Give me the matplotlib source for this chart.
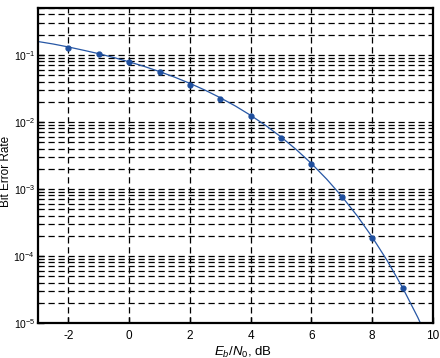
"""BER curve: theory line with simulated points, MATLAB-style dashed grid."""

import matplotlib as mpl
import matplotlib.pyplot as plt
from matplotlib.ticker import LogLocator, NullFormatter

mpl.use("Agg")

plt.rcParams["font.family"] = ["Liberation Sans", "DejaVu Sans"]
plt.rcParams["mathtext.fontset"] = "custom"
plt.rcParams["mathtext.rm"] = "Liberation Sans"
plt.rcParams["mathtext.it"] = "Liberation Sans:italic"
plt.rcParams["axes.unicode_minus"] = False

# Theory curve (at 0.5 dB steps)
ebn0_theory = [-3, -2.5, -2, -1.5, -1, -0.5, 0, 0.5, 1, 1.5, 2, 2.5, 3, 3.5,
               4, 4.5, 5, 5.5, 6, 6.5, 7, 7.5, 8, 8.5, 9, 9.5, 10]
ber_theory = [0.158, 0.145, 0.131, 0.117, 0.104, 0.091, 0.0786, 0.0671,
              0.0563, 0.0464, 0.0375, 0.0297, 0.0229, 0.0172, 0.0125,
              0.0088, 0.00595, 0.00386, 0.00239, 0.0014, 7.73e-4, 3.99e-4,
              1.91e-4, 8.4e-5, 3.36e-5, 1.21e-5, 3.87e-6]

# Simulated points
ebn0_sim = [-2, -1, 0, 1, 2, 3, 4, 5, 6, 7, 8, 9]
ber_sim = [0.128, 0.102, 0.077, 0.055, 0.036, 0.0222, 0.0123, 0.0058,
           0.00232, 7.5e-4, 1.85e-4, 3.3e-5]

line_color = "#2757a5"

figure = plt.figure(figsize=(4.4, 3.58), dpi=100)
axes = figure.add_axes([0.0864, 0.0978, 0.8977, 0.8799])

axes.semilogy(ebn0_theory, ber_theory, color=line_color, linewidth=0.9)
axes.semilogy(ebn0_sim, ber_sim, linestyle="none", marker="o",
              markersize=3.5, color="#1f4f9e")

axes.set_xlim(-3, 10)
axes.set_ylim(1e-5, 0.5)
axes.set_xticks([-2, 0, 2, 4, 6, 8, 10])
axes.yaxis.set_major_locator(LogLocator(base=10, numticks=10))
axes.yaxis.set_minor_locator(LogLocator(base=10, subs=range(2, 10), numticks=20))
axes.yaxis.set_minor_formatter(NullFormatter())

dash = (0, (5, 3))
axes.grid(True, which="major", axis="both", color="black", linestyle=dash,
          linewidth=0.9)
axes.grid(True, which="minor", axis="y", color="black", linestyle=dash,
          linewidth=0.9)

for spine in axes.spines.values():
    spine.set_linewidth(1.6)

axes.tick_params(which="both", direction="in", labelsize=7.5, top=False,
                 right=False)
axes.tick_params(which="major", length=4, width=1, pad=2)
axes.tick_params(which="minor", length=2.5, width=0.8)
axes.tick_params(axis="x", which="major", labelsize=8.5, pad=5)

axes.set_xlabel(r"$E_b/N_0$, dB", fontsize=9.5)
axes.xaxis.set_label_coords(0.52, -0.068)
axes.xaxis.label.set_verticalalignment("top")
axes.set_ylabel("Bit Error Rate", fontsize=8.5)
axes.yaxis.set_label_coords(-0.066, 0.48)

figure.savefig("out.png", dpi=100)
plt.close(figure)
